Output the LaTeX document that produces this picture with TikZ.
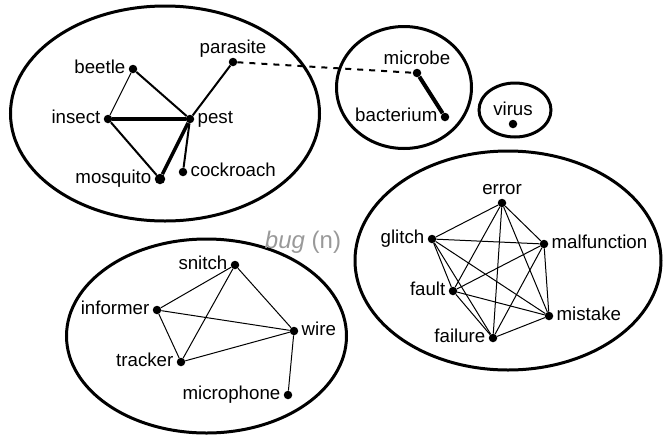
\documentclass[tikz,border=0pt]{standalone}
\usepackage{fontspec}
\setmainfont{Liberation Sans}
\begin{document}
\begin{tikzpicture}[x=1pt,y=-1pt,
  group/.style={line width=3pt},
  dot/.style={circle,fill=black,inner sep=0pt,minimum size=8.5pt},
  bigdot/.style={dot,minimum size=10.5pt},
  every label/.style={font=\fontsize{18.7}{20}\selectfont,inner sep=1pt,text height=1.75ex,text depth=.2ex},
  label distance=2pt,
  thin edge/.style={line width=1pt},
  mid edge/.style={line width=2pt},
  thick edge/.style={line width=3.5pt},
  heavy edge/.style={line width=4pt},
  link/.style={line width=2pt,dash pattern=on 6pt off 6pt}]
\useasboundingbox (0,0) rectangle (665,440);

% sense groups
\draw[group] (165,113.5) ellipse [x radius=154.5pt, y radius=107.5pt];
\draw[group] (404,87.5) ellipse [x radius=67.5pt, y radius=61pt];
\draw[group] (515,110) ellipse [x radius=36pt, y radius=27pt];
\draw[group] (508,260.5) ellipse [x radius=153pt, y radius=109.5pt];
\draw[group] (206.5,336) ellipse [x radius=140pt, y radius=97pt];

% headword
\node[text=black!40,font=\fontsize{24}{26}\selectfont] (head) at (303,242) {\textit{bug} (n)};

% insects and pests
\node[dot,label=left:beetle] (beetle) at (133,69) {};
\node[dot,label=left:insect] (insect) at (108,119) {};
\node[dot,label=right:pest] (pest) at (190,119) {};
\node[dot,label=above:parasite] (parasite) at (233,62) {};
\node[bigdot,label=left:mosquito] (mosquito) at (160,179) {};
\node[dot,label=right:cockroach] (cockroach) at (183,172) {};

\draw[thin edge] (beetle) -- (insect);
\draw[mid edge] (beetle) -- (pest);
\draw[heavy edge] (insect) -- (pest);
\draw[mid edge] (insect) -- (mosquito);
\draw[thick edge] (mosquito) -- (pest);
\draw[mid edge] (pest) -- (cockroach);
\draw[mid edge] (pest) -- (parasite);

% microbes
\node[dot,label=above:microbe] (microbe) at (417,73) {};
\node[dot,label=left:bacterium] (bacterium) at (445,117) {};
\draw[heavy edge] (microbe) -- (bacterium);
\draw[link] (parasite) -- (microbe);

\node[dot,label=above:virus] (virus) at (513,124) {};

% faults
\node[dot,label=above:error] (error) at (502,203) {};
\node[dot,label=left:glitch] (glitch) at (432,239) {};
\node[dot,label=right:malfunction] (malfunction) at (544,244) {};
\node[dot,label=left:fault] (fault) at (453,291) {};
\node[dot,label=right:mistake] (mistake) at (549,316) {};
\node[dot,label=left:failure] (failure) at (493,338) {};
\foreach \a/\b in {error/glitch,error/malfunction,error/fault,error/mistake,error/failure,
  glitch/malfunction,glitch/fault,glitch/mistake,glitch/failure,
  malfunction/fault,malfunction/mistake,malfunction/failure,
  fault/mistake,fault/failure,mistake/failure}
  \draw[thin edge] (\a) -- (\b);

% surveillance
\node[dot,label=left:snitch] (snitch) at (235,265) {};
\node[dot,label=left:informer] (informer) at (157,310) {};
\node[dot,label=right:wire] (wire) at (294,331) {};
\node[dot,label=left:tracker] (tracker) at (181,362) {};
\node[dot,label=left:microphone] (microphone) at (288,395) {};
\foreach \a/\b in {snitch/informer,snitch/tracker,snitch/wire,informer/wire,
  informer/tracker,tracker/wire,wire/microphone}
  \draw[thin edge] (\a) -- (\b);
\end{tikzpicture}
\end{document}
